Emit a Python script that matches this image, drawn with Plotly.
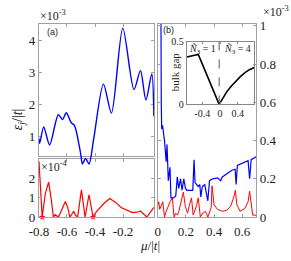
import plotly.graph_objects as go

W, H = 291, 261

# ---------------- data ----------------
# panel (a) top: blue, units 1e-3
mu_a_blue = [-0.80, -0.795, -0.766, -0.724, -0.662, -0.632, -0.605, -0.57, -0.547, -0.51, -0.50,
             -0.49, -0.467, -0.443, -0.409, -0.34, -0.283, -0.202, -0.122, -0.076, -0.037, 0.005, 0.02]
eps_a_blue = [0.94, 0.79, 1.30, 0.74, 1.68, 1.53, 1.74, 1.43, 1.35, 0.65, 0.40,
              0.15, 0.32, 0.15, 0.94, 2.63, 1.73, 4.37, 2.46, 3.05, 2.14, 2.95, 1.63]

# panel (a) bottom: red, units 1e-4
mu_a_red = [-0.80, -0.777, -0.755, -0.731, -0.712, -0.697, -0.685, -0.675, -0.662, -0.648, -0.63,
            -0.612, -0.595, -0.58, -0.565, -0.552, -0.54, -0.524, -0.497, -0.471, -0.443, -0.414,
            -0.39, -0.363, -0.33, -0.294, -0.248, -0.214, -0.17, -0.133, -0.1, -0.076, -0.03, 0.005, 0.02]
eps_a_red = [2.88, 0.0, 1.2, 1.8, 0.9, 0.0, 0.12, 0.05, 0.0, 0.2, 0.5,
             0.8, 0.5, 0.0, 0.15, 0.3, 0.1, 0.0, 1.4, 0.0, 1.15, 0.0,
             0.28, 0.5, 0.75, 0.96, 0.73, 0.49, 0.35, 0.23, 0.25, 0.31, 0.0, 0.39, 0.5]
mu_a_star = [-0.777, -0.414]
eps_a_star = [0.0, 0.0]

# panel (b): units 1e-3
mu_b_blue = [0.000, 0.020, 0.025, 0.028, 0.034, 0.048, 0.060, 0.066, 0.075, 0.087, 0.094, 0.112,
             0.128, 0.139, 0.149, 0.162, 0.173, 0.185, 0.197, 0.208, 0.231, 0.249, 0.258, 0.265,
             0.288, 0.299, 0.306, 0.317, 0.334, 0.345, 0.356, 0.368, 0.390, 0.425, 0.447, 0.459,
             0.527, 0.550, 0.557, 0.566, 0.642, 0.653, 0.664, 0.700]
eps_b_blue = [2.90, 1.63, 0.60, 0.46, 0.48, 0.40, 0.29, 0.38, 0.19, 0.26, 0.10, 0.10,
              0.11, 0.21, 0.15, 0.20, 0.14, 0.20, 0.15, 0.14, 0.14, 0.14, 0.30, 0.18,
              0.16, 0.17, 0.105, 0.16, 0.17, 0.13, 0.085, 0.19, 0.20, 0.205, 0.19, 0.21,
              0.245, 0.25, 0.17, 0.27, 0.295, 0.20, 0.30, 0.315]

mu_b_red = [0.0, 0.007, 0.014, 0.036, 0.048, 0.060, 0.088, 0.104, 0.116, 0.128, 0.140, 0.150,
            0.166, 0.182, 0.196, 0.212, 0.224, 0.240, 0.252, 0.263, 0.276, 0.288, 0.303, 0.320,
            0.340, 0.356, 0.368, 0.380, 0.386, 0.400, 0.425, 0.459, 0.490, 0.518, 0.541, 0.552,
            0.562, 0.585, 0.620, 0.642, 0.653, 0.664, 0.675, 0.700]
eps_b_red = [0.06, 0.08, 0.04, 0.08, 0.0, 0.03, 0.08, 0.10, 0.0, 0.02, 0.01, 0.03,
             0.08, 0.13, 0.056, 0.02, 0.06, 0.10, 0.01, 0.03, 0.06, 0.10, 0.0, 0.02,
             0.03, 0.0, 0.03, 0.05, 0.163, 0.064, 0.04, 0.03, 0.035, 0.056, 0.105, 0.14,
             0.065, 0.03, 0.045, 0.08, 0.135, 0.07, 0.01, 0.01]

# inset: bulk gap
mu_gap = [-0.75, -0.49, -0.02, 0.05, 0.10, 0.16, 0.25, 0.34, 0.45, 0.56, 0.66, 0.77]
gap = [0.38, 0.40, 0.0, 0.04, 0.075, 0.106, 0.145, 0.18, 0.22, 0.255, 0.278, 0.295]
mu_boundary = -0.02

xticks_a = [-0.8, -0.6, -0.4, -0.2]
xticks_b = [0, 0.2, 0.4, 0.6]
yticks_a_top = [1, 2, 3, 4]
yticks_a_bot = [0, 1, 2]
yticks_b = [0, 0.2, 0.4, 0.6, 0.8, 1]
inset_xticks = [-0.4, 0, 0.4]
inset_yticks = [0, 0.5]

# ---------------- layout helpers ----------------
def px(x):
    return x / W

def py(y):
    return 1 - y / H

SERIF = "Liberation Serif"
SANS = "Liberation Sans"
AXC = "#a0a0a0"
BLUE = "#0000ff"
RED = "#ff0000"

fig = go.Figure()

# placeholder so the top-left frame subplot is drawn
fig.add_trace(go.Scatter(x=[None], y=[None], mode="lines", xaxis="x", yaxis="y", showlegend=False, hoverinfo="skip"))
fig.add_trace(go.Scatter(x=mu_a_red, y=eps_a_red, mode="lines", line=dict(color=RED, width=1.2),
                         xaxis="x2", yaxis="y2", showlegend=False))
fig.add_trace(go.Scatter(x=mu_a_star, y=eps_a_star, mode="markers", marker=dict(color=RED, size=5, symbol="star"),
                         xaxis="x2", yaxis="y2", showlegend=False, cliponaxis=False))
fig.add_trace(go.Scatter(x=mu_b_blue, y=eps_b_blue, mode="lines", line=dict(color=BLUE, width=1.2),
                         xaxis="x3", yaxis="y3", showlegend=False))
fig.add_trace(go.Scatter(x=mu_b_red, y=eps_b_red, mode="lines", line=dict(color=RED, width=1.0),
                         xaxis="x3", yaxis="y3", showlegend=False))
fig.add_trace(go.Scatter(x=mu_gap, y=gap, mode="lines", line=dict(color="black", width=1.6),
                         xaxis="x4", yaxis="y4", showlegend=False))
# blue of panel (a) on a slightly taller invisible axis so it may spill past the frame, as in the original
fig.add_trace(go.Scatter(x=mu_a_blue, y=eps_a_blue, mode="lines", line=dict(color=BLUE, width=1.4, shape="spline", smoothing=0.8),
                         xaxis="x5", yaxis="y5", showlegend=False))

def ax(**kw):
    base = dict(showline=True, linecolor=AXC, linewidth=1, mirror="ticks", ticks="inside",
                ticklen=3, tickcolor=AXC, showgrid=False, zeroline=False,
                tickfont=dict(family=SERIF, size=13, color="#222"))
    base.update(kw)
    return base

LX = [px(30), px(149)]
fig.update_layout(
    width=W, height=H, margin=dict(l=0, r=0, t=0, b=0),
    paper_bgcolor="white", plot_bgcolor="rgba(0,0,0,0)",
    xaxis=ax(domain=LX, range=[-0.8, 0.02], tickvals=xticks_a, showticklabels=False, anchor="y"),
    yaxis=ax(domain=[py(159), py(19)], range=[0.382, 4.5], tickvals=yticks_a_top,
             ticktext=["1", "2", "3", "4"], anchor="x"),
    xaxis2=ax(domain=LX, range=[-0.8, 0.02], tickvals=xticks_a, ticktext=["-0.8", "-0.6", "-0.4", "-0.2"],
              anchor="y2", ticklabelstandoff=2),
    yaxis2=ax(domain=[py(223), py(162)], range=[0, 2.98], tickvals=yticks_a_bot, ticktext=["0", "1", "2"], anchor="x2"),
    xaxis3=ax(domain=[px(153), px(255)], range=[0, 0.7], tickvals=xticks_b, ticktext=["0", "0.2", "0.4", "0.6"],
              anchor="y3", ticklabelstandoff=2),
    yaxis3=ax(domain=[py(223), py(19)], range=[0, 1.01], tickvals=yticks_b,
              ticktext=["0", "0.2", "0.4", "0.6", "0.8", "1"], side="right", anchor="x3"),
    xaxis4=ax(domain=[px(183), px(253)], range=[-0.75, 0.77], tickvals=inset_xticks, ticktext=["-0.4", "0", "0.4"],
              anchor="y4", linecolor="#888", tickcolor="#888", ticklen=2, tickfont=dict(family=SERIF, size=10, color="#222")),
    yaxis4=ax(domain=[py(104), py(38)], range=[0, 0.5], tickvals=inset_yticks, ticktext=["0", "0.5"],
              anchor="x4", linecolor="#888", tickcolor="#888", ticklen=2, tickfont=dict(family=SERIF, size=10, color="#222")),
    xaxis5=dict(domain=LX, range=[-0.8, 0.02], visible=False, anchor="y5"),
    yaxis5=dict(domain=[py(170), py(19)], range=[0.059, 4.5], visible=False, anchor="x5"),
)

fig.add_shape(type="line", xref="x4", yref="y4", x0=mu_boundary, x1=mu_boundary, y0=0, y1=0.5,
              line=dict(color="#555", width=1, dash="dash"))

def note(text, x, y, size=12, family=SERIF, xanchor="center", angle=0):
    fig.add_annotation(text=text, xref="paper", yref="paper", x=px(x), y=py(y), showarrow=False,
                       xanchor=xanchor, yanchor="middle", textangle=angle, borderpad=0,
                       font=dict(family=family, size=size, color="#222"))

note("×10<sup>-3</sup>", 30, 10, size=12, xanchor="left")
note("×10<sup>-4</sup>", 31, 170, size=12, xanchor="left")
note("×10<sup>-3</sup>", 290, 6, size=12, xanchor="right")
note("(a)", 44, 28, size=9, family=SANS)
note("(b)", 164, 25, size=9, family=SANS)
note("<i>ε<sub>j</sub></i>/|<i>t</i>|", 9, 120, size=14, angle=-90)
note("<i>μ</i>/|<i>t</i>|", 145, 253, size=13)
note("<i>Ñ</i><sub>3</sub> = 1", 199, 46, size=10)
note("<i>Ñ</i><sub>3</sub> = 4", 236, 46, size=10)
note("bulk gap", 171, 70, size=11, angle=-90)

fig.write_html("out.html", config={"displayModeBar": False},
               post_script="document.body.style.margin='0px';")
